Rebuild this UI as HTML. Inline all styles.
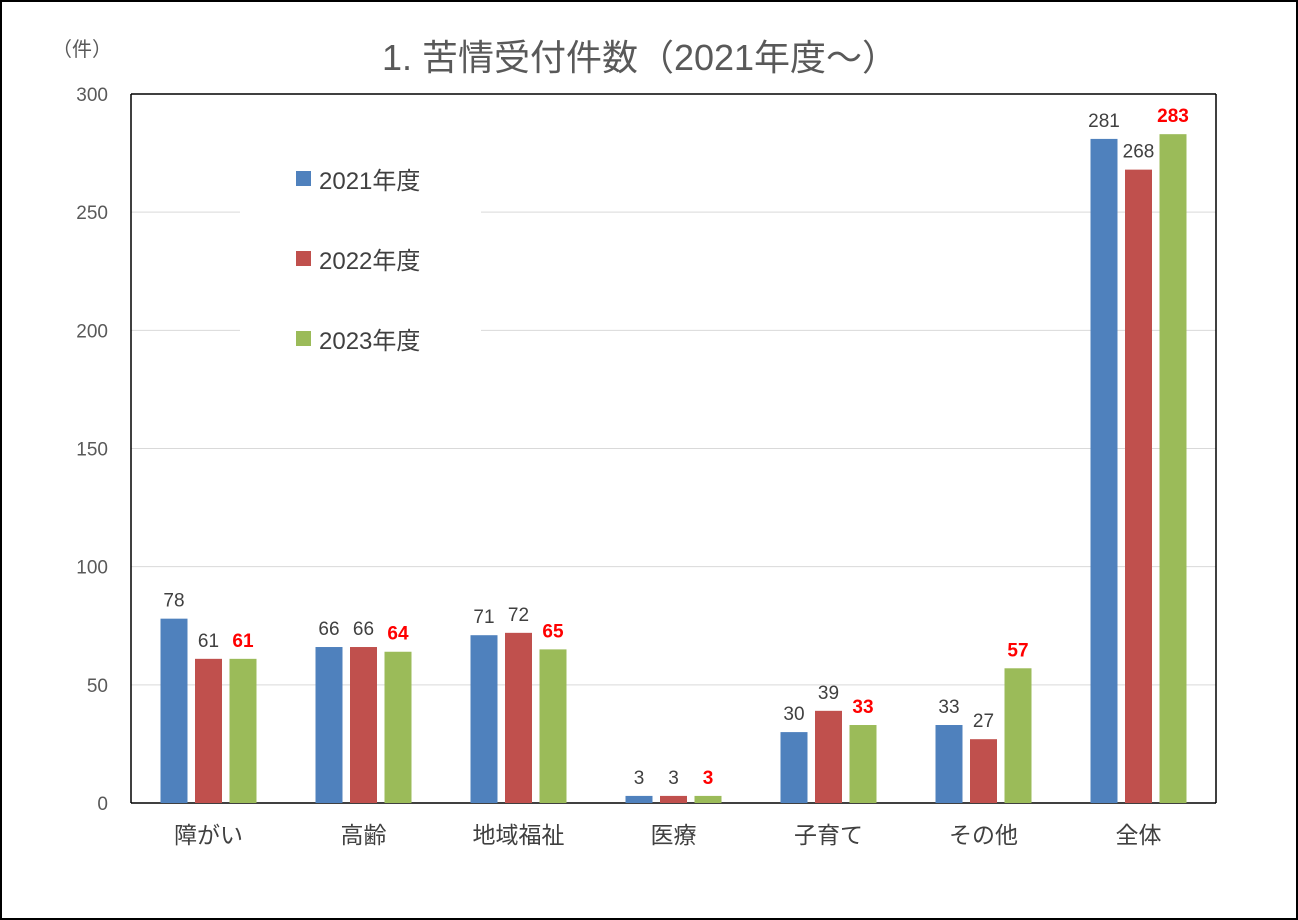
<!DOCTYPE html>
<html><head><meta charset="utf-8">
<style>
body{margin:0;background:#fff;}
svg{display:block;font-family:"Liberation Sans","Noto Sans CJK JP",sans-serif;}
</style></head>
<body>
<svg id="chart" width="1298" height="920" viewBox="0 0 1298 920">
<rect x="1" y="1" width="1296" height="918" fill="#fff" stroke="#000" stroke-width="2"/>
<text x="640" y="70" text-anchor="middle" font-size="36" fill="#595959">1. 苦情受付件数（2021年度～）</text>
<text x="82" y="56" text-anchor="middle" font-size="20" fill="#595959">（件）</text>
<g id="grid"></g>
<rect x="240" y="150" width="241" height="225" fill="#fff"/>
<g id="bars"></g>
<g id="legend"></g>
</svg>
<script>
const categories=["障がい","高齢","地域福祉","医療","子育て","その他","全体"];
const s2021=[78,66,71,3,30,33,281];
const s2022=[61,66,72,3,39,27,268];
const s2023=[61,64,65,3,33,57,283];
const seriesNames=["2021年度","2022年度","2023年度"];
const yTicks=[0,50,100,150,200,250,300];
const colors=["#4F81BD","#C0504D","#9BBB59"];
const NS="http://www.w3.org/2000/svg";
const X0=131,X1=1216,Y0=803,Y1=94,YMAX=300;
const y=v=>Y0-(v/YMAX)*(Y0-Y1);
const groupW=(X1-X0)/categories.length;
const xc=i=>X0+groupW*(i+0.5);
function mk(tag,attrs,parent){const e=document.createElementNS(NS,tag);for(const k in attrs)e.setAttribute(k,attrs[k]);parent.appendChild(e);return e;}
const grid=document.getElementById('grid'),bars=document.getElementById('bars'),legend=document.getElementById('legend');
yTicks.forEach(t=>{
  if(t>0){const l=mk('line',{x1:X0,x2:X1,y1:y(t),y2:y(t),stroke:'#d9d9d9','stroke-width':1},grid);
  
  }
  const tx=mk('text',{x:108,y:y(t)+7,'text-anchor':'end','font-size':19,fill:'#595959'},grid);
  tx.textContent=t;
  
  
});
const ax=mk('line',{x1:X0,x2:X0,y1:Y1,y2:Y0,stroke:'#000','stroke-width':1.5},grid);


const ax2=mk('line',{x1:X0,x2:X1,y1:Y0,y2:Y0,stroke:'#000','stroke-width':1.5},grid);


const ax3=mk('line',{x1:X1,x2:X1,y1:Y1,y2:Y0,stroke:'#000','stroke-width':1.5},grid);


const ax4=mk('line',{x1:X0,x2:X1,y1:Y1,y2:Y1,stroke:'#000','stroke-width':1.5},grid);


const series=[s2021,s2022,s2023];
const bw=27,step=34.5;
categories.forEach((c,i)=>{
  series.forEach((s,j)=>{
    const bx=xc(i)+(j-1)*step-bw/2;
    const r=mk('rect',{x:bx,y:y(s[i]),width:bw,height:Y0-y(s[i]),fill:colors[j]},bars);
    
    
    const lab=mk('text',{x:bx+bw/2,y:y(s[i])-12,'text-anchor':'middle','font-size':19,fill:j==2?'#FF0000':'#404040','font-weight':j==2?'bold':'normal'},bars);
    lab.textContent=s[i];
    
    
  });
  const cl=mk('text',{x:xc(i),y:843,'text-anchor':'middle','font-size':23,fill:'#404040'},bars);
  cl.textContent=c;
  
  
});
seriesNames.forEach((n,j)=>{
  const ly=180+j*80;
  const sw=mk('rect',{x:296,y:ly-9,width:15,height:15,fill:colors[j]},legend);
  
  
  const t=mk('text',{x:319,y:ly+9,'font-size':24,fill:'#404040'},legend);
  t.textContent=n;
  
  
});
</script>
</body></html>
